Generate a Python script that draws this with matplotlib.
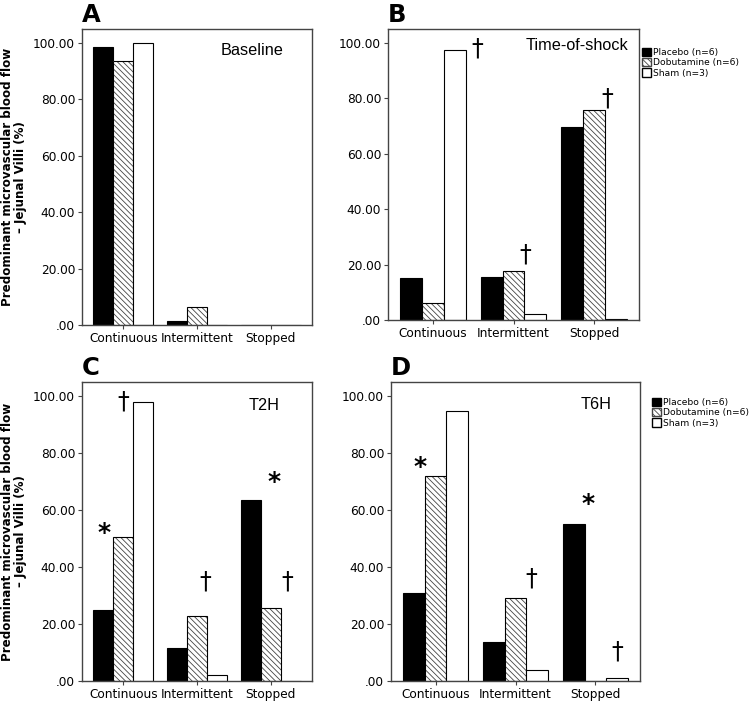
import matplotlib
matplotlib.use("Agg")
import matplotlib.pyplot as plt
import numpy as np
from matplotlib.patches import Patch

plt.rcParams['font.family'] = ['DejaVu Sans']
plt.rcParams['hatch.linewidth'] = 0.6

categories = ["Continuous", "Intermittent", "Stopped"]
series_names = ["Placebo (n=6)", "Dobutamine (n=6)", "Sham (n=3)"]
ytick_vals = [0, 20, 40, 60, 80, 100]
ytick_labels = [".00", "20.00", "40.00", "60.00", "80.00", "100.00"]

# values per panel: [Continuous, Intermittent, Stopped]
baseline_placebo = [98.6, 1.5, 0.0]
baseline_dobutamine = [93.6, 6.4, 0.0]
baseline_sham = [100.0, 0.0, 0.0]

shock_placebo = [15.1, 15.5, 69.5]
shock_dobutamine = [6.3, 17.7, 75.9]
shock_sham = [97.6, 2.0, 0.3]

t2h_placebo = [24.8, 11.5, 63.7]
t2h_dobutamine = [50.5, 23.0, 25.8]
t2h_sham = [98.0, 2.0, 0.1]

t6h_placebo = [30.8, 13.8, 55.3]
t6h_dobutamine = [72.1, 29.0, 0.0]
t6h_sham = [94.7, 3.9, 1.1]

# significance markers: (symbol, x in category units, y value)
marks_b = [("†", 0.55, 98), ("†", 1.15, 23.5), ("†", 2.16, 80)]
marks_c = [("†", 0.0, 98), ("*", -0.26, 52), ("†", 1.11, 35), ("*", 2.05, 70), ("†", 2.23, 35)]
marks_d = [("*", -0.2, 75), ("†", 1.2, 36), ("*", 1.91, 62), ("†", 2.27, 10.5)]

W, H = 750, 702
fig = plt.figure(figsize=(7.5, 7.02), dpi=100)

def box(l, t, r, b):
    return [l / W, 1 - b / H, (r - l) / W, (b - t) / H]

panels = [
    ("A", "Baseline", box(82, 29, 312, 325), (0.878, 0.929), baseline_placebo, baseline_dobutamine, baseline_sham, [], True),
    ("B", "Time-of-shock", box(388, 29, 639, 320), (0.956, 0.945), shock_placebo, shock_dobutamine, shock_sham, marks_b, False),
    ("C", "T2H", box(82, 382, 312, 681), (0.861, 0.923), t2h_placebo, t2h_dobutamine, t2h_sham, marks_c, True),
    ("D", "T6H", box(391, 382, 640, 681), (0.888, 0.926), t6h_placebo, t6h_dobutamine, t6h_sham, marks_d, False),
]

bw = 0.27
x = np.arange(len(categories))
for letter, title, tpos, pl, db, sh, marks, ylab in [(p[0], p[1], p[3], p[4], p[5], p[6], p[7], p[8]) for p in panels]:
    pass

for letter, title, pos, tpos, pl, db, sh, marks, ylab in panels:
    ax = fig.add_axes(pos)
    ax.bar(x - bw, pl, bw, color="black", edgecolor="black", linewidth=0.8)
    ax.bar(x, db, bw, color="white", edgecolor="#444444", hatch="\\\\\\\\\\\\", linewidth=0)
    ax.bar(x, db, bw, color="none", edgecolor="black", linewidth=0.8)
    ax.bar(x + bw, sh, bw, color="white", edgecolor="black", linewidth=0.8)
    ax.set_xlim(-0.56, 2.56)
    ax.set_ylim(0, 105)
    ax.set_xticks(x)
    ax.set_xticklabels(categories, fontsize=8.7)
    ax.set_yticks(ytick_vals)
    ax.set_yticklabels(ytick_labels, fontsize=8.7)
    ax.tick_params(direction="out", length=3, width=0.8, color="#444444", pad=2)
    for s in ax.spines.values():
        s.set_color("#444444")
        s.set_linewidth(1.0)
    ax.text(tpos[0], tpos[1], title, transform=ax.transAxes, ha="right", va="center",
            fontsize=11.7, family=["Liberation Sans", "DejaVu Sans"])
    hpx = pos[3] * H
    ax.text(0.0, 1.0 + 7 / hpx, letter, transform=ax.transAxes, ha="left", va="baseline",
            fontsize=17.5, fontweight="bold")
    for sym, mx, my in marks:
        if sym == "*":
            ax.text(mx, my, "*", ha="center", va="center", fontsize=18, fontweight="bold")
        else:
            ax.text(mx, my, "†", ha="center", va="center", fontsize=17)
    if ylab:
        ax.set_ylabel("Predominant microvascular blood flow\n– Jejunal Villi (%)",
                      fontsize=8.6, fontweight="bold", labelpad=4, linespacing=1.0)

handles = [Patch(facecolor="black", edgecolor="black"),
           Patch(facecolor="white", edgecolor="#444444", hatch="\\\\\\\\\\\\"),
           Patch(facecolor="white", edgecolor="black")]
for lx, ly in [(642, 48), (652, 398)]:
    fig.legend(handles, series_names, loc="upper left", bbox_to_anchor=(lx / W, 1 - ly / H),
               frameon=False, fontsize=6.6, handlelength=1.0, handleheight=1.0,
               handletextpad=0.15, labelspacing=0.1, borderpad=0, borderaxespad=0)

fig.savefig("out.png", dpi=100)
